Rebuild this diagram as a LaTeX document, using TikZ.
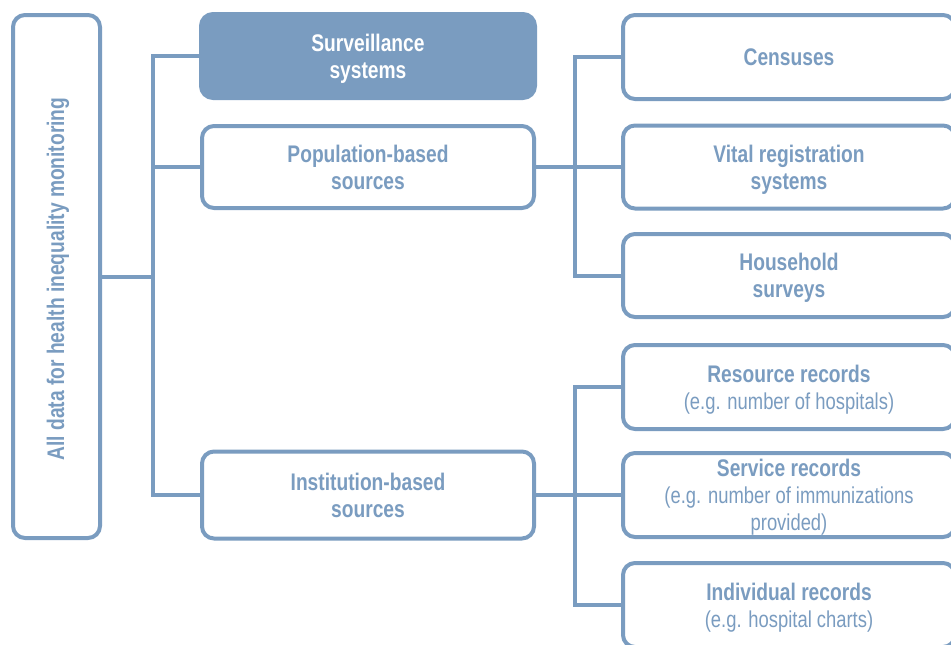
\documentclass[tikz,border=0pt]{standalone}
\usepackage{fontspec}
\setmainfont{Liberation Sans}[FakeStretch=0.8]
\definecolor{bluegrey}{RGB}{122,156,192}
\begin{document}
\begin{tikzpicture}[x=1pt,y=-1pt,
  box/.style={draw=bluegrey, line width=4pt, rounded corners=12pt, fill=white,
    text=bluegrey, align=center, inner sep=0pt, text depth=0pt,
    font=\fontsize{24}{27}\selectfont\bfseries},
  filledbox/.style={box, fill=bluegrey, text=white},
  conn/.style={draw=bluegrey, line width=4pt},
  subtext/.style={}]
\useasboundingbox (0,0) rectangle (951,645);
\fill[white] (0,0) rectangle (951,645);
% left box
\node[box, minimum width=87pt, minimum height=523pt] (all) at (56.5,276.5) {};
\node[text=bluegrey, rotate=90, font=\fontsize{24}{27}\selectfont\bfseries] (alltext) at (58,279) {All data for health inequality monitoring};
% middle column
\node[filledbox, minimum width=334pt, minimum height=84pt] (surv) at (368,56) {Surveillance\\systems};
\node[box, minimum width=332pt, minimum height=82pt] (pop) at (368,167) {Population-based\\sources};
\node[box, minimum width=332pt, minimum height=87pt] (inst) at (368,495) {Institution-based\\sources};
% right column
\node[box, minimum width=332pt, minimum height=84pt] (cen) at (789,57) {Censuses};
\node[box, minimum width=332pt, minimum height=83pt] (vit) at (789,167) {Vital registration\\systems};
\node[box, minimum width=332pt, minimum height=83pt] (hou) at (789,275.5) {Household\\surveys};
\node[box, minimum width=332pt, minimum height=84pt] (res) at (789,387) {Resource records\\{\mdseries\fontsize{23}{27}\selectfont (e.g. number of hospitals)}};
\node[box, minimum width=332pt, minimum height=84pt] (ser) at (789,495) {Service records\\{\mdseries\fontsize{23}{27}\selectfont (e.g. number of immunizations}\\{\mdseries\fontsize{23}{27}\selectfont provided)}};
\node[box, minimum width=332pt, minimum height=84pt] (ind) at (789,605) {Individual records\\{\mdseries\fontsize{23}{27}\selectfont (e.g. hospital charts)}};
% trunks
\coordinate (tr1) at (153,276.5);
\coordinate (tr2) at (575,167);
\coordinate (tr3) at (575,495);
\draw[conn] (all.east) -- (tr1);
\draw[conn] (surv.west) -| (tr1) |- (inst.west);
\draw[conn] (pop.west) -- (pop.west -| tr1);
\draw[conn] (pop.east) -- (vit.west);
\draw[conn] (cen.west) -| (tr2) |- (hou.west);
\draw[conn] (inst.east) -- (ser.west);
\draw[conn] (res.west) -| (tr3) |- (ind.west);
\end{tikzpicture}
\end{document}
